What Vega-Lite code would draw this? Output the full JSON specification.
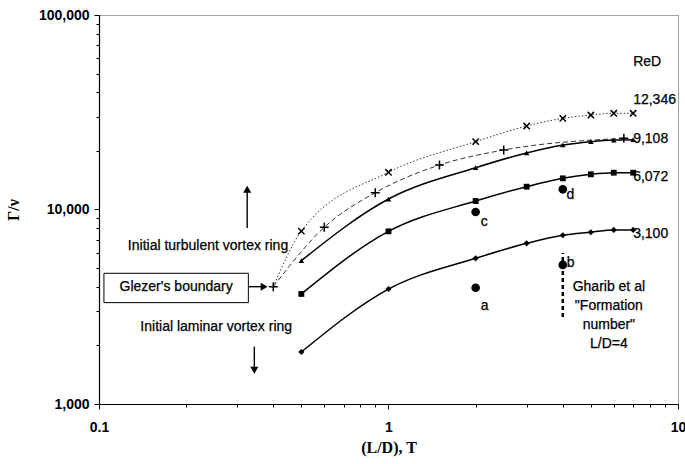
{
  "$schema": "https://vega.github.io/schema/vega-lite/v6.json",
  "width": 579,
  "height": 389,
  "autosize": {"type": "none"},
  "padding": {"left": 99, "top": 15, "right": 7, "bottom": 60},
  "background": "white",
  "config": {
    "view": {"stroke": "#444", "strokeDash": [1, 1], "strokeWidth": 1},
    "axis": {
      "grid": false,
      "domainColor": "black",
      "domainWidth": 1.2,
      "tickColor": "black",
      "labelColor": "black",
      "labelFont": "Liberation Sans",
      "labelFontWeight": "bold",
      "labelFontSize": 14,
      "titleFont": "Liberation Serif",
      "titleFontWeight": "bold",
      "titleFontSize": 16,
      "titleColor": "black"
    },
    "text": {"font": "Liberation Sans", "fontSize": 14, "color": "black", "stroke": "black", "strokeWidth": 0.25}
  },
  "resolve": {"scale": {"shape": "independent", "size": "independent"}},
  "datasets": {
    "pts": [
      {"s": "dia", "x": 0.5, "y": 1850}, {"s": "dia", "x": 1, "y": 3900}, {"s": "dia", "x": 2, "y": 5610}, {"s": "dia", "x": 3, "y": 6700},
      {"s": "dia", "x": 4, "y": 7370}, {"s": "dia", "x": 5, "y": 7640}, {"s": "dia", "x": 6, "y": 7850}, {"s": "dia", "x": 7, "y": 7850},
      {"s": "sq", "x": 0.5, "y": 3680}, {"s": "sq", "x": 1, "y": 7720}, {"s": "sq", "x": 2, "y": 11060}, {"s": "sq", "x": 3, "y": 13100},
      {"s": "sq", "x": 4, "y": 14460}, {"s": "sq", "x": 5, "y": 15170}, {"s": "sq", "x": 6, "y": 15460}, {"s": "sq", "x": 7, "y": 15460},
      {"s": "tri", "x": 0.5, "y": 5460}, {"s": "tri", "x": 1, "y": 11320}, {"s": "tri", "x": 2, "y": 16400}, {"s": "tri", "x": 3, "y": 19530},
      {"s": "tri", "x": 4, "y": 21460}, {"s": "tri", "x": 5, "y": 22330}, {"s": "tri", "x": 6, "y": 22760}, {"s": "tri", "x": 7, "y": 22860},
      {"s": "plus", "x": 0.4, "y": 4010}, {"s": "plus", "x": 0.6, "y": 8100}, {"s": "plus", "x": 0.9, "y": 12200}, {"s": "plus", "x": 1.5, "y": 16930},
      {"s": "plus", "x": 2.5, "y": 20220}, {"s": "plus", "x": 6.5, "y": 23230},
      {"s": "cross", "x": 0.4, "y": 4010, "mk": false},
      {"s": "cross", "x": 0.5, "y": 7740}, {"s": "cross", "x": 1, "y": 15530}, {"s": "cross", "x": 2, "y": 22330}, {"s": "cross", "x": 3, "y": 26870},
      {"s": "cross", "x": 4, "y": 29420}, {"s": "cross", "x": 5, "y": 30590}, {"s": "cross", "x": 6, "y": 31240}, {"s": "cross", "x": 7, "y": 31240}
    ],
    "circles": [
      {"x": 2, "y": 3960, "t": "a"}, {"x": 4, "y": 5190, "t": "b"}, {"x": 2, "y": 9710, "t": "c"}, {"x": 4, "y": 12700, "t": "d"}
    ],
    "ctext": [
      {"x": 0.238, "y": 6520, "t": "Initial turbulent vortex ring"},
      {"x": 0.254, "y": 2477, "t": "Initial laminar vortex ring"},
      {"x": 0.1847, "y": 4010, "t": "Glezer's boundary"},
      {"x": 5.77, "y": 4010, "t": "Gharib et al"},
      {"x": 5.77, "y": 3190, "t": "\"Formation"},
      {"x": 5.77, "y": 2546, "t": "number\""},
      {"x": 5.77, "y": 2035, "t": "L/D=4"},
      {"x": 2.15, "y": 3190, "t": "a"},
      {"x": 4.26, "y": 5290, "t": "b"},
      {"x": 2.14, "y": 8650, "t": "c"},
      {"x": 4.25, "y": 11870, "t": "d"}
    ],
    "ltext": [
      {"x": 7, "y": 57540, "t": "ReD"},
      {"x": 7, "y": 36560, "t": "12,346"},
      {"x": 7, "y": 23040, "t": "9,108"},
      {"x": 7, "y": 14740, "t": "6,072"},
      {"x": 7, "y": 7480, "t": "3,100"}
    ],
    "box": [{"x": 0.104, "x2": 0.328, "y": 3320, "y2": 4700}],
    "shafts": [
      {"x": 0.325, "x2": 0.325, "y": 8040, "y2": 12300},
      {"x": 0.344, "x2": 0.344, "y": 1972, "y2": 1520},
      {"x": 0.328, "x2": 0.37, "y": 4010, "y2": 4010}
    ],
    "heads": [
      {"x": 0.325, "y": 12700, "h": "up"},
      {"x": 0.344, "y": 1490, "h": "down"},
      {"x": 0.372, "y": 4010, "h": "right"}
    ],
    "vline": [{"x": 4, "x2": 4, "y": 2800, "y2": 5970}]
  },
  "encoding": {
    "x": {
      "field": "x", "type": "quantitative",
      "scale": {"type": "log", "domain": [0.1, 10], "nice": false},
      "axis": {
        "title": "(L/D), T",
        "values": [0.1, 0.2, 0.3, 0.4, 0.5, 0.6, 0.7, 0.8, 0.9, 1, 2, 3, 4, 5, 6, 7, 8, 9, 10],
        "labelExpr": "datum.value == 0.1 ? '0.1' : datum.value == 1 ? '1' : datum.value == 10 ? '10' : ''",
        "tickSize": {"condition": {"test": "indexof([0.1,1,10], datum.value) >= 0", "value": 5}, "value": 3},
        "labelPadding": 11,
        "titlePadding": 5,
        "labelFlush": false,
        "labelOverlap": false
      }
    },
    "y": {
      "field": "y", "type": "quantitative",
      "scale": {"type": "log", "domain": [1000, 100000], "nice": false},
      "axis": {
        "title": "Γ/ν",
        "values": [1000, 2000, 3000, 4000, 5000, 6000, 7000, 8000, 9000, 10000, 20000, 30000, 40000, 50000, 60000, 70000, 80000, 90000, 100000],
        "labelExpr": "indexof([1000,10000,100000], datum.value) >= 0 ? format(datum.value, ',') : ''",
        "tickSize": {"condition": {"test": "indexof([1000,10000,100000], datum.value) >= 0", "value": 5}, "value": 3},
        "labelPadding": 5,
        "titlePadding": 17,
        "labelFlush": false,
        "labelOverlap": false
      }
    }
  },
  "layer": [
    {
      "data": {"name": "box"},
      "mark": {"type": "rect", "fill": "white", "stroke": "black", "strokeWidth": 1},
      "encoding": {"x2": {"field": "x2"}, "y2": {"field": "y2"}}
    },
    {
      "data": {"name": "pts"},
      "transform": [{"filter": "datum.s == 'cross'"}],
      "mark": {"type": "line", "interpolate": "monotone", "color": "#333", "strokeWidth": 1, "strokeDash": [1.5, 2]},
      "encoding": {"order": {"field": "x"}}
    },
    {
      "data": {"name": "pts"},
      "transform": [{"filter": "datum.s == 'plus'"}],
      "mark": {"type": "line", "interpolate": "monotone", "color": "#333", "strokeWidth": 1, "strokeDash": [5, 3]},
      "encoding": {"order": {"field": "x"}}
    },
    {
      "data": {"name": "pts"},
      "transform": [{"filter": "datum.s == 'tri' || datum.s == 'sq' || datum.s == 'dia'"}],
      "mark": {"type": "line", "interpolate": "monotone", "color": "black", "strokeWidth": 1.5},
      "encoding": {"detail": {"field": "s"}, "order": {"field": "x"}}
    },
    {
      "data": {"name": "pts"},
      "transform": [{"filter": "datum.s == 'tri' || datum.s == 'sq' || datum.s == 'dia'"}],
      "mark": {"type": "point", "filled": true, "color": "black", "opacity": 1},
      "encoding": {
        "shape": {"field": "s", "type": "nominal", "scale": {"domain": ["tri", "sq", "dia"], "range": ["triangle-up", "square", "diamond"]}, "legend": null},
        "size": {"field": "s", "type": "nominal", "scale": {"domain": ["tri", "sq", "dia"], "range": [30, 38, 32]}, "legend": null}
      }
    },
    {
      "data": {"name": "pts"},
      "transform": [{"filter": "(datum.s == 'plus' || datum.s == 'cross') && datum.mk !== false"}],
      "mark": {"type": "point", "filled": false, "color": "black", "strokeWidth": 1.5, "opacity": 1},
      "encoding": {
        "shape": {"field": "s", "type": "nominal", "scale": {"domain": ["plus", "cross"], "range": ["M-1,0L1,0M0,-1L0,1", "M-1,-1L1,1M-1,1L1,-1"]}, "legend": null},
        "size": {"field": "s", "type": "nominal", "scale": {"domain": ["plus", "cross"], "range": [80, 40]}, "legend": null}
      }
    },
    {
      "data": {"name": "circles"},
      "mark": {"type": "circle", "color": "black", "size": 75, "opacity": 1}
    },
    {
      "data": {"name": "vline"},
      "mark": {"type": "rule", "color": "black", "strokeWidth": 2.5, "strokeDash": [4, 3]},
      "encoding": {"x2": {"field": "x2"}, "y2": {"field": "y2"}}
    },
    {
      "data": {"name": "shafts"},
      "mark": {"type": "rule", "color": "black", "strokeWidth": 1.4},
      "encoding": {"x2": {"field": "x2"}, "y2": {"field": "y2"}}
    },
    {
      "data": {"name": "heads"},
      "mark": {"type": "point", "filled": true, "color": "black", "size": 65, "opacity": 1},
      "encoding": {
        "shape": {"field": "h", "type": "nominal", "scale": {"domain": ["up", "down", "right"], "range": ["triangle-up", "triangle-down", "triangle-right"]}, "legend": null}
      }
    },
    {
      "data": {"name": "ctext"},
      "mark": {"type": "text", "align": "center", "baseline": "middle"},
      "encoding": {"text": {"field": "t"}}
    },
    {
      "data": {"name": "ltext"},
      "mark": {"type": "text", "align": "left", "baseline": "middle"},
      "encoding": {"text": {"field": "t"}}
    }
  ]
}
